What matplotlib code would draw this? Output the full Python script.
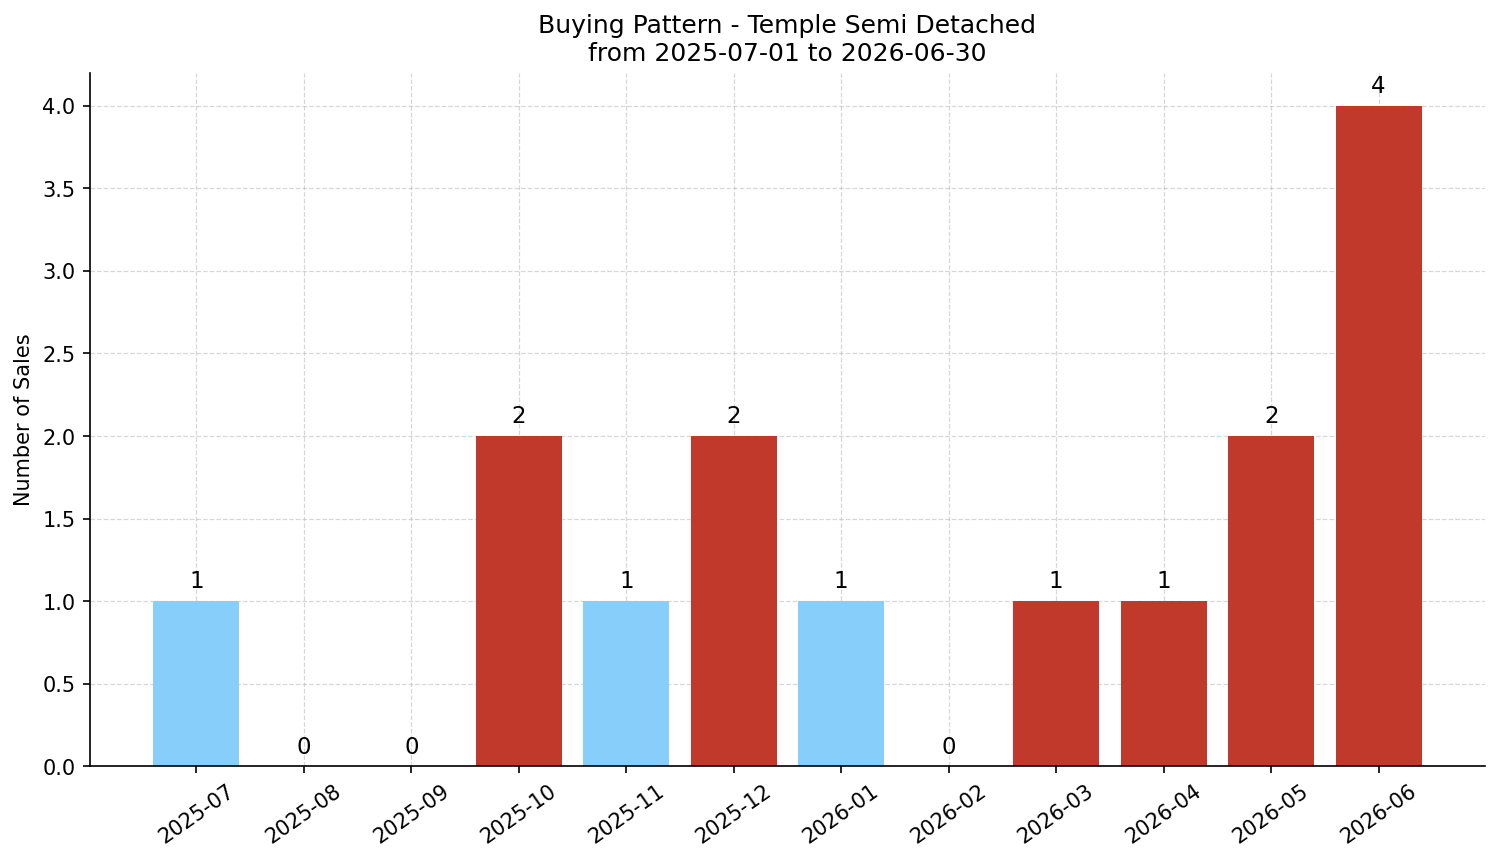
import numpy as np
import matplotlib.pyplot as plt

months = ["2025-07", "2025-08", "2025-09", "2025-10", "2025-11", "2025-12",
          "2026-01", "2026-02", "2026-03", "2026-04", "2026-05", "2026-06"]
sales = [1, 0, 0, 2, 1, 2, 1, 0, 1, 1, 2, 4]
bar_colors = ["#87CEFA", "#87CEFA", "#87CEFA", "#C0392B", "#87CEFA", "#C0392B",
              "#87CEFA", "#87CEFA", "#C0392B", "#C0392B", "#C0392B", "#C0392B"]

fig, ax = plt.subplots(figsize=(10.0, 5.75), dpi=150)

x = np.arange(len(months))
bars = ax.bar(x, sales, color=bar_colors, width=0.8)

for b, v in zip(bars, sales):
    ax.text(b.get_x() + b.get_width() / 2, v + 0.05, str(v),
            ha="center", va="bottom", fontsize=11)

ax.set_xticks(x)
ax.set_xticklabels(months, rotation=35)
ax.set_ylabel("Number of Sales")
ax.set_title("Buying Pattern - Temple Semi Detached\nfrom 2025-07-01 to 2026-06-30", fontsize=12)
ax.set_ylim(0, 4.2)
ax.grid(True, linestyle="--", alpha=0.5, linewidth=0.6)
ax.set_axisbelow(True)
ax.spines["top"].set_visible(False)
ax.spines["right"].set_visible(False)

fig.subplots_adjust(left=0.060, right=0.990, top=0.915, bottom=0.111)
plt.savefig("out.png", dpi=150)
